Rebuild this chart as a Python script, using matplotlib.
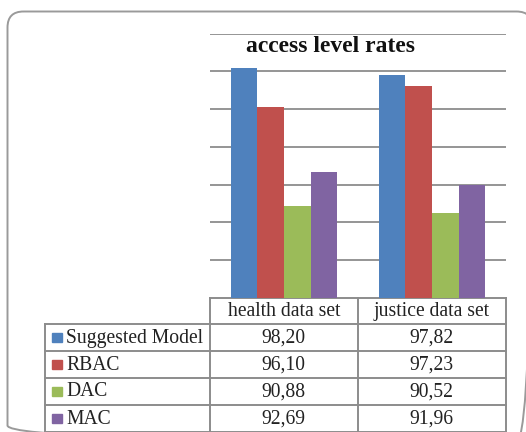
import matplotlib
matplotlib.use("Agg")
import matplotlib.pyplot as plt
from matplotlib.patches import FancyBboxPatch, Rectangle
import numpy as np

categories = ["health data set", "justice data set"]
series_names = ["Suggested Model", "RBAC", "DAC", "MAC"]
suggested = [98.20, 97.82]
rbac = [96.10, 97.23]
dac = [90.88, 90.52]
mac = [92.69, 91.96]
series_values = [suggested, rbac, dac, mac]
value_labels = [["98,20", "97,82"], ["96,10", "97,23"], ["90,88", "90,52"], ["92,69", "91,96"]]
title = "access level rates"

colors = ["#4F81BD", "#C0504D", "#9BBB59", "#8064A2"]
grid_col = "#8c8c8c"
serif = ["Liberation Serif", "DejaVu Serif"]

W, H = 526, 432
fig = plt.figure(figsize=(W / 100, H / 100), dpi=100)
fig.patch.set_facecolor("white")

# overlay axes in pixel coords
ov = fig.add_axes([0, 0, 1, 1])
ov.set_xlim(0, W)
ov.set_ylim(H, 0)
ov.axis("off")

# rounded outer border
box = FancyBboxPatch((7.5, 11.5), 525, 430, boxstyle="round,pad=0,rounding_size=16",
                     fill=False, ec="#9a9a9a", lw=1.4)
ov.add_patch(box)

# plot axes
ax_l, ax_r, ax_t, ax_b = 210, 506, 33.7, 298
ax = fig.add_axes([ax_l / W, (H - ax_b) / H, (ax_r - ax_l) / W, (ax_b - ax_t) / H])
ax.set_facecolor("none")
ax.set_ylim(86, 100)
ax.set_xlim(-0.5, 1.5)
for v in np.arange(88, 100.1, 2):
    ax.axhline(v, color=grid_col, lw=1.3, zorder=0)
bw = 0.18
x = np.arange(len(categories))
for j, (vals, c) in enumerate(zip(series_values, colors)):
    ax.bar(x + (j - 1.5) * bw, np.array(vals) - 86, bottom=86, width=bw, color=c,
           zorder=2, edgecolor="none")
for s in ax.spines.values():
    s.set_visible(False)
ax.set_xticks([])
ax.set_yticks([])

ov.text(330, 46, title, fontsize=17, fontweight="bold", family=serif,
        ha="center", va="center", color="#111111")

# data table
col_x = [45, 210, 357.5, 506]
row_y = [298, 323.5, 350.5, 377.5, 404.5, 431.5]
lc = "#8c8c8c"
lw = 1.4
ov.plot([col_x[1], col_x[3]], [row_y[0], row_y[0]], color=lc, lw=lw)
for i in range(1, len(row_y)):
    ov.plot([col_x[0], col_x[3]], [row_y[i], row_y[i]], color=lc, lw=lw)
ov.plot([col_x[0], col_x[0]], [row_y[1], row_y[-1]], color=lc, lw=lw)
for cx in col_x[1:]:
    ov.plot([cx, cx], [row_y[0], row_y[-1]], color=lc, lw=lw)

fs = 14.1
dy = 1.0
for k, cat in enumerate(categories):
    ov.text((col_x[k + 1] + col_x[k + 2]) / 2, (row_y[0] + row_y[1]) / 2 + dy, cat,
            fontsize=fs, family=serif, ha="center", va="center", color="#222222")
for j, name in enumerate(series_names):
    yc = (row_y[j + 1] + row_y[j + 2]) / 2
    ov.add_patch(Rectangle((52, yc - 4.5), 9.5, 9.5, color=colors[j]))
    ov.text(66, yc + dy, name, fontsize=fs, family=serif, ha="left", va="center", color="#222222")
    for k in range(len(categories)):
        ov.text((col_x[k + 1] + col_x[k + 2]) / 2, yc + dy, value_labels[j][k],
                fontsize=fs, family=serif, ha="center", va="center", color="#222222")

fig.savefig("out.png", dpi=100)
